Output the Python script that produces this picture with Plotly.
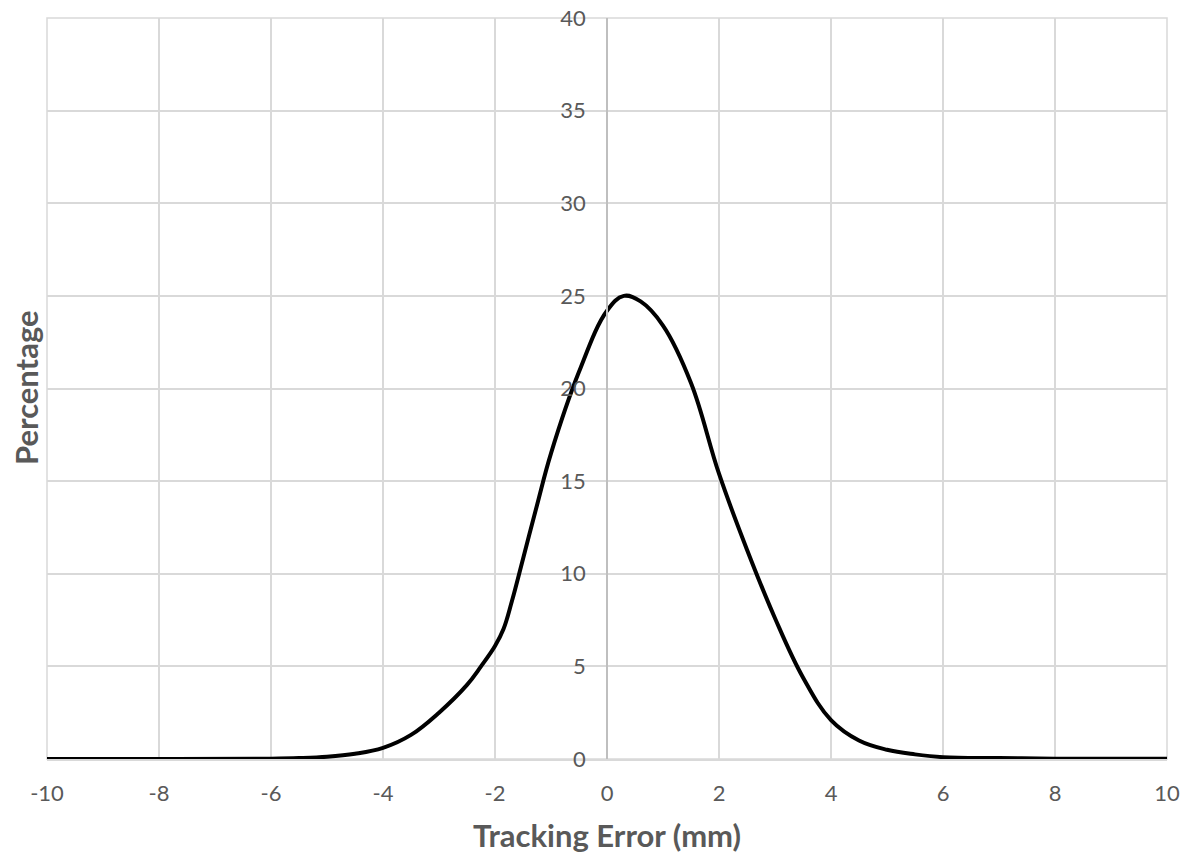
import plotly.graph_objects as go

tracking_error = [-10, -8, -6, -5.5, -5, -4.5, -4, -3.5, -3, -2.5, -2.25, -2, -1.85, -1.7, -1.5, -1.25, -1,
                  -0.5, 0, 0.3, 0.6, 1, 1.5, 2, 2.5, 3, 3.5, 4, 4.5, 5, 5.5, 6, 7, 8, 10]
percentage = [0, 0, 0.02, 0.05, 0.12, 0.28, 0.6, 1.3, 2.5, 4.0, 5.0, 6.1, 7.0, 8.5, 10.8, 13.7, 16.5,
              20.9, 24.2, 25.0, 24.7, 23.4, 20.3, 15.4, 11.3, 7.6, 4.4, 2.1, 1.0, 0.5, 0.25, 0.1, 0.05, 0.02, 0.01]

x_ticks = [-10, -8, -6, -4, -2, 0, 2, 4, 6, 8, 10]
y_ticks = [0, 5, 10, 15, 20, 25, 30, 35, 40]

font_family = "Lato, Open Sans, sans-serif"
label_color = "#595959"
grid_color = "#d9d9d9"

fig = go.Figure()
fig.add_trace(go.Scatter(
    x=tracking_error, y=percentage, mode="lines",
    line=dict(color="black", width=4, shape="spline", smoothing=1.1),
    showlegend=False, hoverinfo="skip",
))

# body margin is removed by post_script, so the figure fills the window from (0, 0)
W, H = 1194, 855
PL, PR, PT, PB = 47, 1167, 18, 759  # plot area in screen pixels
plot_w = PR - PL
plot_h = PB - PT

fig.update_layout(
    width=W, height=H,
    margin=dict(l=PL, r=W - PR, t=PT, b=H - PB, autoexpand=False),
    plot_bgcolor="white", paper_bgcolor="white",
    font=dict(family=font_family, color=label_color, size=22),
    xaxis=dict(
        range=[-10, 10], tickvals=x_ticks, ticktext=[str(v) for v in x_ticks],
        showgrid=True, gridcolor=grid_color, gridwidth=1.5,
        zeroline=False, showline=True, linecolor=grid_color, linewidth=1.5,
        ticks="", ticklabelstandoff=14, automargin=False, ticklabeloverflow="allow",
        tickfont=dict(size=22, color=label_color),
    ),
    yaxis=dict(
        range=[0, 40], tickvals=y_ticks, ticktext=[str(v) for v in y_ticks],
        showgrid=True, gridcolor=grid_color, gridwidth=1.5,
        zeroline=False, showline=True, linecolor="#bfbfbf", linewidth=1.5,
        anchor="free", position=0.5, ticks="", ticklabelstandoff=16, automargin=False,
        ticklabeloverflow="allow",
        tickfont=dict(size=22, color=label_color),
    ),
    shapes=[dict(type="rect", xref="paper", yref="paper", x0=0, x1=1, y0=0, y1=1,
                 line=dict(color=grid_color, width=1.5), layer="below")],
    annotations=[
        dict(text="<b>Percentage</b>", x=(26 - PL) / plot_w, y=(PB - 388) / plot_h,
             xref="paper", yref="paper", showarrow=False, textangle=-90,
             xanchor="center", yanchor="middle",
             font=dict(size=31, color=label_color)),
        dict(text="<b>Tracking Error (mm)</b>", x=(607 - PL) / plot_w, y=(PB - 835) / plot_h,
             xref="paper", yref="paper", showarrow=False,
             xanchor="center", yanchor="middle",
             font=dict(size=31, color=label_color)),
    ],
)

fig.write_html("out.html", config={"displayModeBar": False},
               post_script="document.body.style.margin='0';document.body.style.overflow='hidden';")
